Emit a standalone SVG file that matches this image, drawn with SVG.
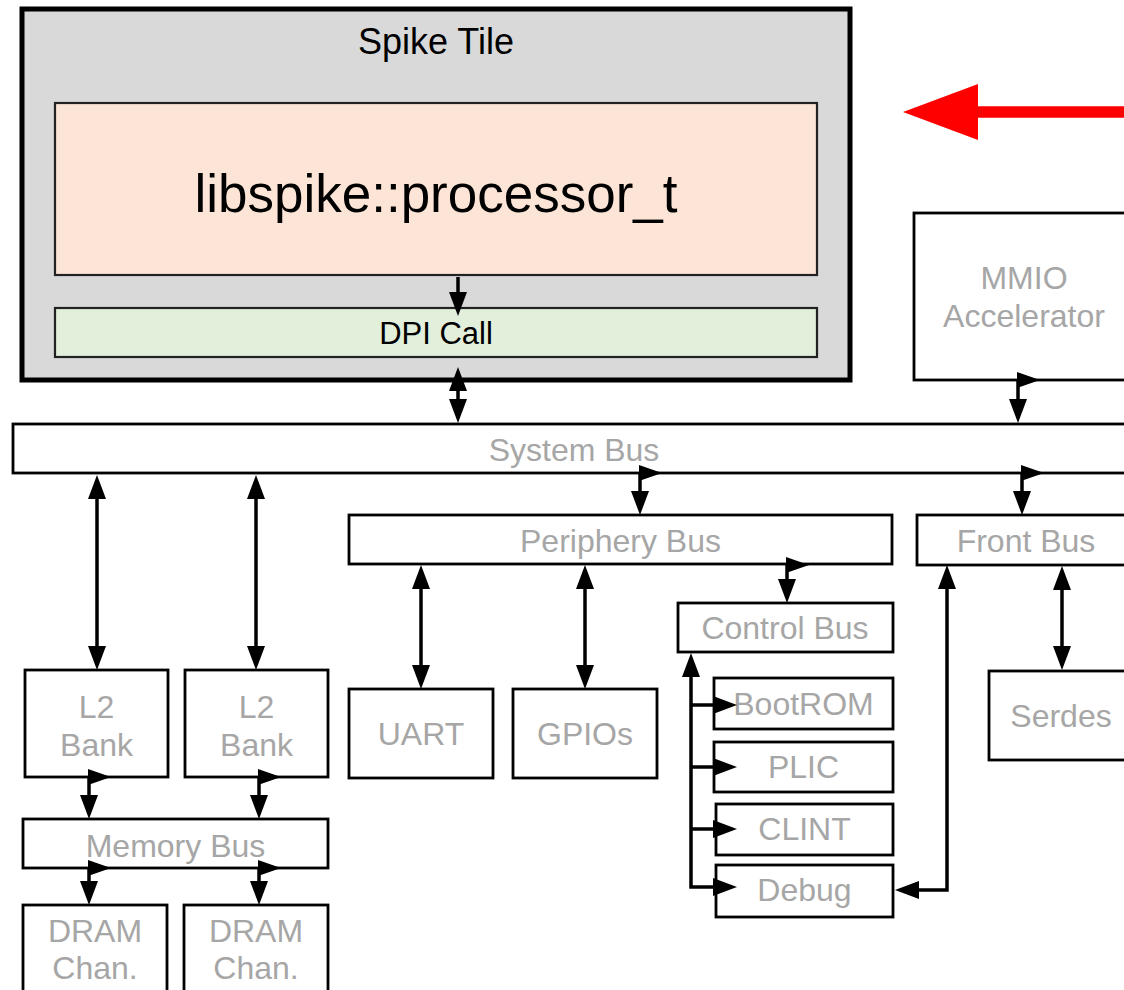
<svg xmlns="http://www.w3.org/2000/svg" width="1124" height="990" viewBox="0 0 1124 990">
  <defs>
    <style>
      text { font-family: "Liberation Sans", Arial, sans-serif; text-anchor: middle; }
      .box { fill: #ffffff; stroke: #000000; stroke-width: 2.8; }
      .lbl { fill: #a6a6a6; font-size: 32px; }
      .dark { fill: #000000; }
      .wire { fill: none; stroke: #000000; stroke-width: 3.5; }
      .head { fill: #000000; }
    </style>
    <marker id="arr" viewBox="0 0 24 18" refX="19" refY="9" markerWidth="24" markerHeight="18" markerUnits="userSpaceOnUse" orient="auto-start-reverse">
      <path d="M0,0 L24,9 L0,18 Z" fill="#000000"/>
    </marker>
  </defs>

  <rect width="1124" height="990" fill="#ffffff"/>

  <!-- Spike tile container -->
  <g id="spike-tile">
    <rect x="22" y="9" width="828" height="371" fill="#d9d9d9" stroke="#000000" stroke-width="5"/>
    <text x="436" y="54" class="dark" font-size="36">Spike Tile</text>
  </g>
  <g id="processor">
    <rect x="55" y="103" width="762" height="172" fill="#fce4d6" stroke="#222222" stroke-width="2.2"/>
    <text x="436" y="212" class="dark" font-size="53">libspike::processor_t</text>
  </g>
  <g id="dpi-call">
    <rect x="55" y="308" width="762" height="49" fill="#e2efda" stroke="#222222" stroke-width="2.2"/>
    <text x="436" y="344" class="dark" font-size="31">DPI Call</text>
  </g>

  <!-- red pointer -->
  <g id="pointer">
    <line x1="1140" y1="112" x2="976" y2="112" stroke="#ff0000" stroke-width="11.5"/>
    <polygon points="903,112 978,84 978,140" fill="#ff0000"/>
  </g>

  <g id="mmio">
    <rect x="914" y="213" width="220" height="167" class="box"/>
    <text x="1024" y="289" class="lbl">MMIO</text>
    <text x="1024" y="327" class="lbl">Accelerator</text>
  </g>

  <g id="system-bus">
    <rect x="13" y="424" width="1122" height="49" class="box"/>
    <text x="574" y="461" class="lbl">System Bus</text>
  </g>

  <g id="periphery-bus">
    <rect x="349" y="515" width="543" height="49" class="box"/>
    <text x="620.5" y="552" class="lbl">Periphery Bus</text>
  </g>

  <g id="front-bus">
    <rect x="917" y="515" width="218" height="50" class="box"/>
    <text x="1026" y="552" class="lbl">Front Bus</text>
  </g>

  <g id="control-bus">
    <rect x="678" y="603" width="215" height="49" class="box"/>
    <text x="785" y="639" class="lbl">Control Bus</text>
  </g>

  <g id="l2-bank-0">
    <rect x="25" y="670" width="143" height="107" class="box"/>
    <text x="96.5" y="718" class="lbl">L2</text>
    <text x="96.5" y="756" class="lbl">Bank</text>
  </g>
  <g id="l2-bank-1">
    <rect x="185" y="670" width="143" height="107" class="box"/>
    <text x="256.5" y="718" class="lbl">L2</text>
    <text x="256.5" y="756" class="lbl">Bank</text>
  </g>

  <g id="memory-bus">
    <rect x="23" y="819" width="305" height="49" class="box"/>
    <text x="175.5" y="857" class="lbl">Memory Bus</text>
  </g>

  <g id="dram-0">
    <rect x="23" y="905" width="144" height="100" class="box"/>
    <text x="95" y="942" class="lbl">DRAM</text>
    <text x="95" y="979" class="lbl">Chan.</text>
  </g>
  <g id="dram-1">
    <rect x="184" y="905" width="144" height="100" class="box"/>
    <text x="256" y="942" class="lbl">DRAM</text>
    <text x="256" y="979" class="lbl">Chan.</text>
  </g>

  <g id="uart">
    <rect x="349" y="689" width="144" height="89" class="box"/>
    <text x="421" y="745" class="lbl">UART</text>
  </g>
  <g id="gpios">
    <rect x="513" y="689" width="144" height="89" class="box"/>
    <text x="585" y="745" class="lbl">GPIOs</text>
  </g>

  <g id="bootrom">
    <rect x="714" y="678" width="179" height="51" class="box"/>
    <text x="803.5" y="715" class="lbl">BootROM</text>
  </g>
  <g id="plic">
    <rect x="714" y="742" width="179" height="50" class="box"/>
    <text x="803.5" y="778" class="lbl">PLIC</text>
  </g>
  <g id="clint">
    <rect x="716" y="804" width="177" height="51" class="box"/>
    <text x="804.5" y="840" class="lbl">CLINT</text>
  </g>
  <g id="debug">
    <rect x="716" y="865" width="177" height="52" class="box"/>
    <text x="804.5" y="901" class="lbl">Debug</text>
  </g>

  <g id="serdes">
    <rect x="989" y="671" width="144" height="89" class="box"/>
    <text x="1061" y="727" class="lbl">Serdes</text>
  </g>

  <!-- connectors -->
  <g id="connectors">
    <path class="wire" d="M458,277 V311" marker-end="url(#arr)"/>
    <path class="wire" d="M458,372 V418" marker-start="url(#arr)" marker-end="url(#arr)"/>

    <polygon class="head" points="1017,372 1040,380 1017,388"/>
    <path class="wire" d="M1018,380 V418" marker-end="url(#arr)"/>

    <polygon class="head" points="639,465 662,473 639,481"/>
    <path class="wire" d="M640,473 V510" marker-end="url(#arr)"/>

    <polygon class="head" points="1021,465 1044,473 1021,481"/>
    <path class="wire" d="M1022,473 V510" marker-end="url(#arr)"/>

    <path class="wire" d="M97,480 V665" marker-start="url(#arr)" marker-end="url(#arr)"/>
    <path class="wire" d="M256,480 V665" marker-start="url(#arr)" marker-end="url(#arr)"/>

    <polygon class="head" points="88,769 111,777 88,785"/>
    <path class="wire" d="M89,777 V814" marker-end="url(#arr)"/>
    <polygon class="head" points="258,769 281,777 258,785"/>
    <path class="wire" d="M259,777 V814" marker-end="url(#arr)"/>

    <polygon class="head" points="88,860 111,868 88,876"/>
    <path class="wire" d="M89,868 V900" marker-end="url(#arr)"/>
    <polygon class="head" points="258,860 281,868 258,876"/>
    <path class="wire" d="M259,868 V900" marker-end="url(#arr)"/>

    <path class="wire" d="M421,570 V684" marker-start="url(#arr)" marker-end="url(#arr)"/>
    <path class="wire" d="M585,570 V684" marker-start="url(#arr)" marker-end="url(#arr)"/>

    <polygon class="head" points="786,557 809,565 786,573"/>
    <path class="wire" d="M787,565 V598" marker-end="url(#arr)"/>

    <path class="wire" d="M732,887 H691 V658" marker-start="url(#arr)" marker-end="url(#arr)"/>
    <path class="wire" d="M691,705 H732" marker-end="url(#arr)"/>
    <path class="wire" d="M691,767 H732" marker-end="url(#arr)"/>
    <path class="wire" d="M691,829 H732" marker-end="url(#arr)"/>

    <path class="wire" d="M1062,571 V665" marker-start="url(#arr)" marker-end="url(#arr)"/>
    <path class="wire" d="M947,570 V890 H900" marker-start="url(#arr)" marker-end="url(#arr)"/>
  </g>
</svg>
